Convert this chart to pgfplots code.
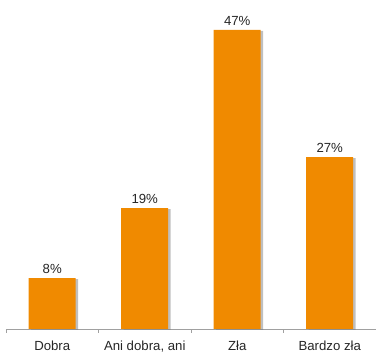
\documentclass[border=0pt]{standalone}
\usepackage{pgfplots}
\pgfplotsset{compat=1.18}
\usepackage{fontspec}
\setmainfont{Liberation Sans}
\usetikzlibrary{shadows}
\definecolor{barorange}{HTML}{F08A00}
\definecolor{axisgrey}{HTML}{A0A0A0}
\begin{document}
\begin{tikzpicture}
\begin{axis}[
  scale only axis,
  width=370pt, height=329pt,
  xmin=-0.5, xmax=3.5,
  ymin=0, ymax=51.7,
  axis y line=none,
  axis x line*=bottom,
  x axis line style={axisgrey, line width=0.8pt, -},
  xtick={0,1,2,3},
  xticklabels={Dobra, {Ani dobra, ani}, Zła, Bardzo zła},
  major tick length=0pt,
  extra x ticks={-0.5,0.5,1.5,2.5,3.5},
  extra x tick labels={},
  extra x tick style={major tick length=4pt, tick align=outside, tick style={axisgrey, line width=0.6pt}},
  xticklabel style={font=\fontsize{13.2}{15}\selectfont, yshift=-8.5pt, text=black!85},
  ybar, bar width=47pt,
  /pgf/number format/assume math mode=true,
  nodes near coords={\pgfmathprintnumber{\pgfplotspointmeta}\%},
  every node near coord/.append style={font=\fontsize{13.2}{15}\selectfont, text=black!85, yshift=1pt},
  clip=false,
]
\addplot[fill=barorange, draw=none, drop shadow={shadow xshift=2.5pt, shadow yshift=-1pt, opacity=0.5}] coordinates {(0,8) (1,19) (2,47) (3,27)};
\end{axis}
\pgfresetboundingbox
\path (current axis.south west) ++(-6pt,-25pt) rectangle ++(376pt,354pt);
\end{tikzpicture}
\end{document}
